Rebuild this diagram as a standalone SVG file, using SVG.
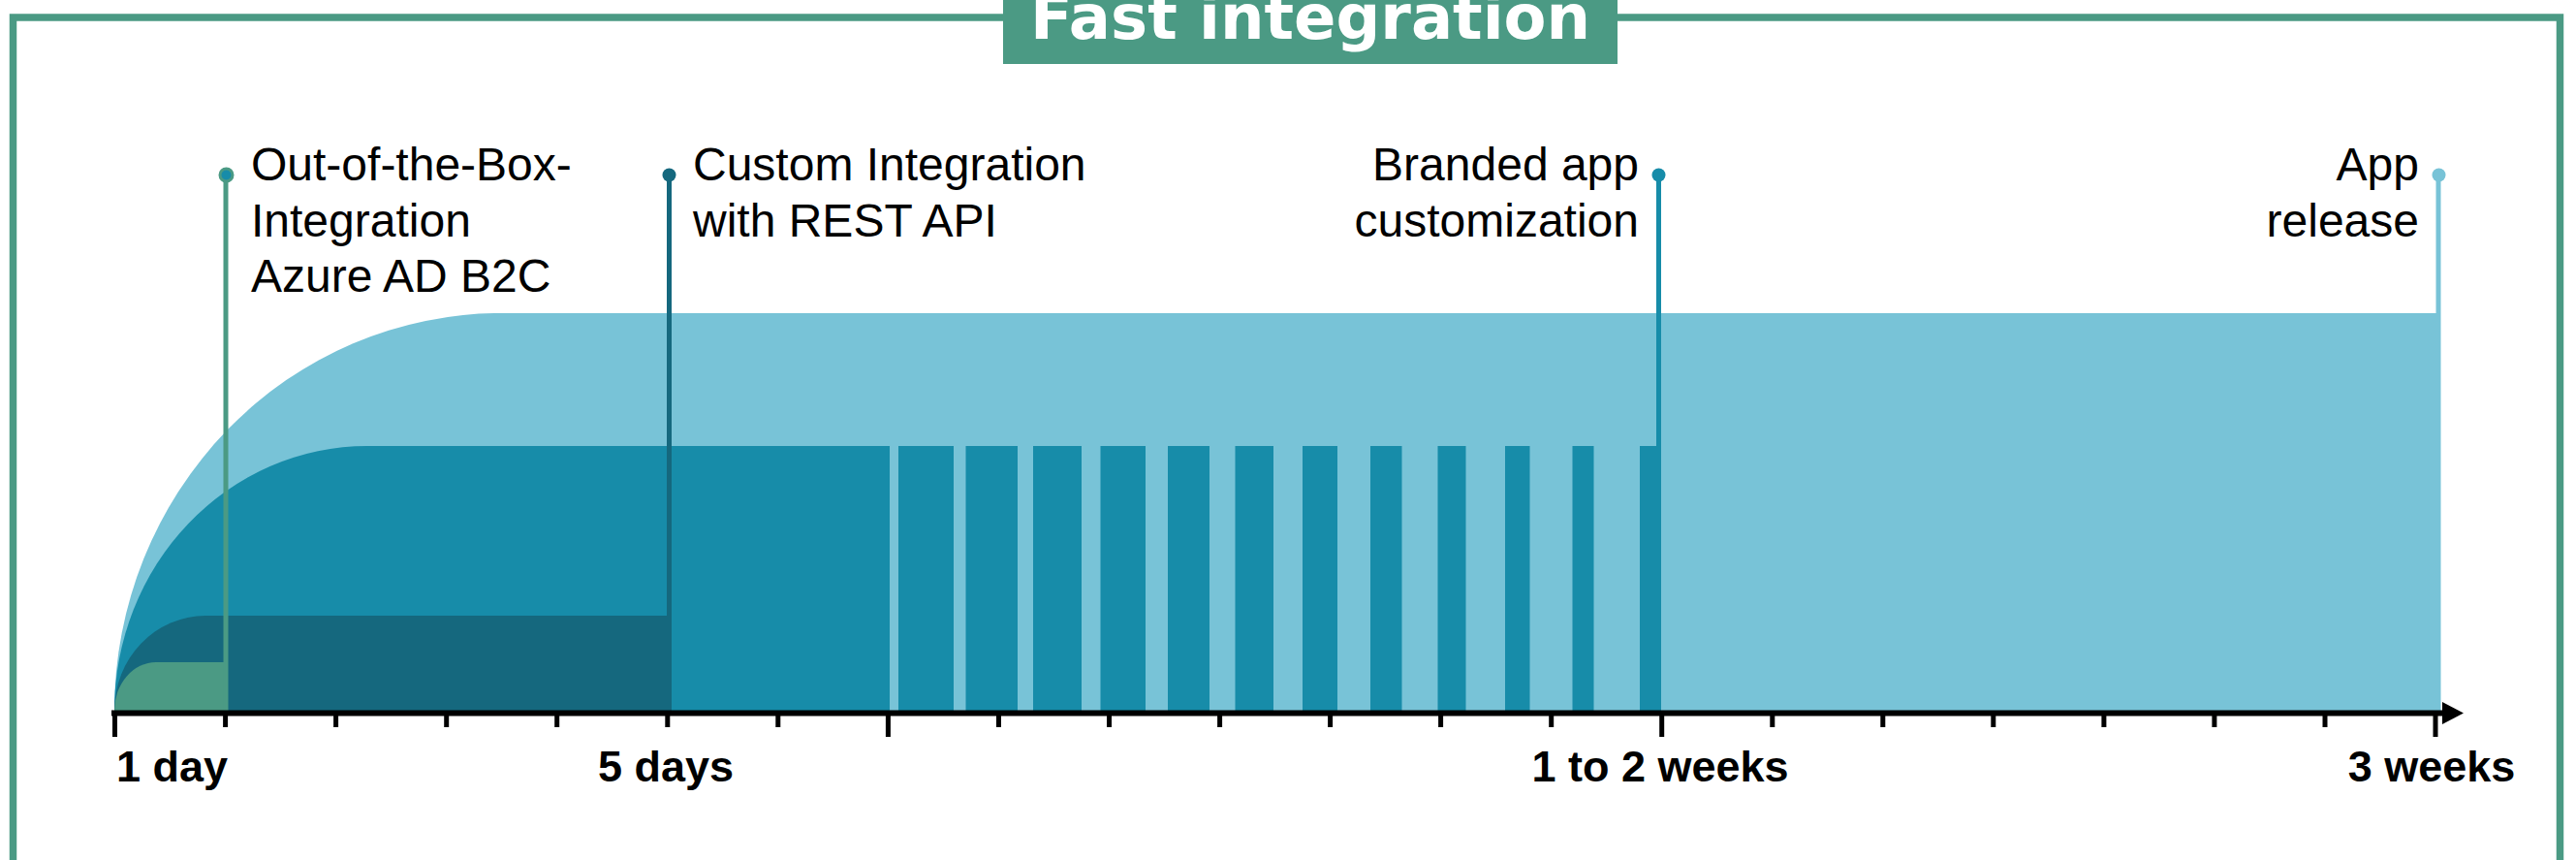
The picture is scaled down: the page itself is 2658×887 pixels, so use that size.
<svg xmlns="http://www.w3.org/2000/svg" width="2658" height="887" viewBox="0 0 2658 887">
<style>
.lbl{font-family:"Liberation Sans",Arial,sans-serif;font-size:48px;fill:#000}
.ax{font-family:"Liberation Sans",Arial,sans-serif;font-size:45px;font-weight:bold;fill:#000}
.title{font-family:"DejaVu Sans","Liberation Sans",sans-serif;font-size:64px;font-weight:bold;fill:#fff}
.tick{stroke:#000;stroke-width:5}
.light{fill:#78c3d7}
.mid{fill:#178ca9}
.dark{fill:#15687e}
.green{fill:#4b9a84}
</style>
<rect x="0" y="0" width="2658" height="887" fill="#fff"/>
<g id="frame">
<rect x="13.5" y="18" width="2628" height="900" fill="none" stroke="#4b9a84" stroke-width="7.5"/>
<rect x="1035" y="0" width="634" height="66" fill="#4b9a84"/>
<text class="title" x="1352" y="40" text-anchor="middle">Fast integration</text>
</g>
<g id="areas">
<path class="light" d="M118,733 A399,410 0 0 1 517,323 L2518,323 L2518,733 Z"/>
<path class="mid" d="M118,733 A261,273 0 0 1 379,460 L918,460 L918,733 Z"/>
<g class="mid">
<rect x="927" y="460" width="57" height="273"/>
<rect x="996.5" y="460" width="53.5" height="273"/>
<rect x="1066" y="460" width="50" height="273"/>
<rect x="1135.5" y="460" width="46.5" height="273"/>
<rect x="1205" y="460" width="43" height="273"/>
<rect x="1274.5" y="460" width="39.5" height="273"/>
<rect x="1344" y="460" width="36" height="273"/>
<rect x="1414" y="460" width="32.5" height="273"/>
<rect x="1483.5" y="460" width="29" height="273"/>
<rect x="1553" y="460" width="25.5" height="273"/>
<rect x="1622.5" y="460" width="22" height="273"/>
<rect x="1692" y="460" width="22" height="273"/>
</g>
<path class="dark" d="M118,733 A94,98 0 0 1 212,635 L693,635 L693,733 Z"/>
<path class="green" d="M118,733 A43,50 0 0 1 161,683 L235,683 L235,733 Z"/>
</g>
<g id="connectors" fill="none" stroke-width="5">
<line x1="233" y1="181" x2="233" y2="733" stroke="#4b9a84"/>
<line x1="690.5" y1="181" x2="690.5" y2="635" stroke="#15687e"/>
<line x1="1711.5" y1="181" x2="1711.5" y2="733" stroke="#178ca9"/>
<line x1="2516" y1="181" x2="2516" y2="733" stroke="#78c3d7"/>
</g>
<g id="m1">
<circle cx="233.5" cy="180.5" r="6.5" fill="#178ca9" stroke="#4b9a84" stroke-width="3"/>
<text class="lbl" x="259" y="186">Out-of-the-Box-</text>
<text class="lbl" x="259" y="244">Integration</text>
<text class="lbl" x="259" y="301">Azure AD B2C</text>
</g>
<g id="m2">
<circle cx="690.5" cy="180.5" r="7" fill="#15687e"/>
<text class="lbl" x="715" y="186">Custom Integration</text>
<text class="lbl" x="715" y="244">with REST API</text>
</g>
<g id="m3">
<circle cx="1711.5" cy="180.5" r="7" fill="#178ca9"/>
<text class="lbl" x="1691" y="186" text-anchor="end">Branded app</text>
<text class="lbl" x="1691" y="244" text-anchor="end">customization</text>
</g>
<g id="m4">
<circle cx="2516.5" cy="180.5" r="7" fill="#78c3d7"/>
<text class="lbl" x="2496" y="186" text-anchor="end">App</text>
<text class="lbl" x="2496" y="244" text-anchor="end">release</text>
</g>
<g id="axis">
<line x1="115" y1="735.5" x2="2524" y2="735.5" stroke="#000" stroke-width="6"/>
<polygon points="2520,724 2542,735.5 2520,747" fill="#000"/>
<line class="tick" x1="118.5" y1="735" x2="118.5" y2="760"/>
<line class="tick" x1="916.4" y1="735" x2="916.4" y2="760"/>
<line class="tick" x1="1714.7" y1="735" x2="1714.7" y2="760"/>
<line class="tick" x1="2513" y1="735" x2="2513" y2="760"/>
<g class="tick">
<line x1="232.6" y1="735" x2="232.6" y2="750"/>
<line x1="346.6" y1="735" x2="346.6" y2="750"/>
<line x1="460.7" y1="735" x2="460.7" y2="750"/>
<line x1="574.7" y1="735" x2="574.7" y2="750"/>
<line x1="688.8" y1="735" x2="688.8" y2="750"/>
<line x1="802.8" y1="735" x2="802.8" y2="750"/>
<line x1="1030.5" y1="735" x2="1030.5" y2="750"/>
<line x1="1144.5" y1="735" x2="1144.5" y2="750"/>
<line x1="1258.6" y1="735" x2="1258.6" y2="750"/>
<line x1="1372.6" y1="735" x2="1372.6" y2="750"/>
<line x1="1486.6" y1="735" x2="1486.6" y2="750"/>
<line x1="1600.7" y1="735" x2="1600.7" y2="750"/>
<line x1="1828.8" y1="735" x2="1828.8" y2="750"/>
<line x1="1942.8" y1="735" x2="1942.8" y2="750"/>
<line x1="2056.8" y1="735" x2="2056.8" y2="750"/>
<line x1="2170.9" y1="735" x2="2170.9" y2="750"/>
<line x1="2284.9" y1="735" x2="2284.9" y2="750"/>
<line x1="2399" y1="735" x2="2399" y2="750"/>
</g>
<text class="ax" x="120" y="806">1 day</text>
<text class="ax" x="687" y="806" text-anchor="middle">5 days</text>
<text class="ax" x="1713" y="806" text-anchor="middle">1 to 2 weeks</text>
<text class="ax" x="2509" y="806" text-anchor="middle">3 weeks</text>
</g>
</svg>
